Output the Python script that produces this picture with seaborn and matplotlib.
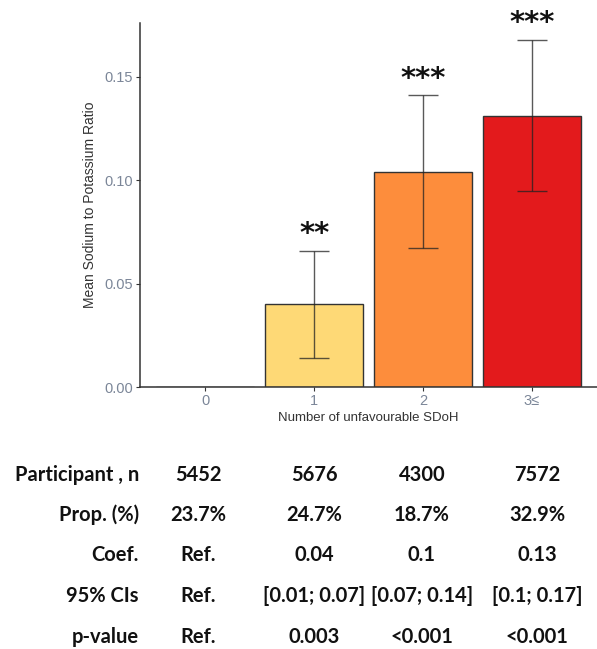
import matplotlib
matplotlib.use("Agg")
import matplotlib.pyplot as plt
import seaborn as sns
import pandas as pd

# data
groups = ["0", "1", "2", "3≤"]
mean_ratio = [0.0, 0.040, 0.104, 0.131]
ci_low = [None, 0.014, 0.067, 0.095]
ci_high = [None, 0.066, 0.141, 0.168]
stars = ["", "**", "***", "***"]
bar_colors = ["#FFFFCC", "#FED976", "#FD8D3C", "#E31A1C"]

row_labels = ["Participant , n", "Prop. (%)", "Coef.", "95% CIs", "p-value"]
participants = ["5452", "5676", "4300", "7572"]
proportions = ["23.7%", "24.7%", "18.7%", "32.9%"]
coefs = ["Ref.", "0.04", "0.1", "0.13"]
cis = ["Ref.", "[0.01; 0.07]", "[0.07; 0.14]", "[0.1; 0.17]"]
pvalues = ["Ref.", "0.003", "<0.001", "<0.001"]

df = pd.DataFrame({"group": groups, "mean": mean_ratio})

sns.set_style("white")
plt.rcParams["font.family"] = ["Liberation Sans", "DejaVu Sans"]

W, H = 597, 649
fig = plt.figure(figsize=(W / 100, H / 100), dpi=100)
ax = fig.add_axes([140 / W, 1 - 387 / H, (W - 140) / W, (387 - 23) / H])

sns.barplot(data=df, x="group", y="mean", hue="group", palette=bar_colors,
            legend=False, width=0.9, saturation=1, edgecolor="#333333",
            linewidth=1.0, ax=ax)

for i in range(1, len(groups)):
    ax.errorbar(i, mean_ratio[i],
                yerr=[[mean_ratio[i] - ci_low[i]], [ci_high[i] - mean_ratio[i]]],
                fmt="none", ecolor="#222222", alpha=0.75, elinewidth=1.0,
                capsize=11, capthick=1.0)
    ax.text(i, ci_high[i] + 0.001, stars[i], ha="center", va="bottom",
            fontsize=21, fontweight="bold", family=["DejaVu Sans"],
            color="#111111", clip_on=False)

ax.set_xlim(-0.6, 3.6)
ax.set_ylim(0, 0.176)
ax.set_yticks([0.0, 0.05, 0.10, 0.15])
ax.set_yticklabels(["0.00", "0.05", "0.10", "0.15"])
for s in ["top", "right"]:
    ax.spines[s].set_visible(False)
for s in ["left", "bottom"]:
    ax.spines[s].set_color("#333333")
    ax.spines[s].set_linewidth(1.1)
ax.tick_params(axis="both", colors="#333333", labelcolor="#7b8698",
               labelsize=10.5, length=3, width=0.8, direction="out", pad=2,
               left=True, bottom=True)
ax.set_xlabel("Number of unfavourable SDoH", fontsize=9.5, color="#333333", labelpad=3)
ax.set_ylabel("Mean Sodium to Potassium Ratio", fontsize=10, color="#333333", labelpad=5)

# summary table below the chart
tfont = dict(family=["Lato", "DejaVu Sans"], fontweight="bold", fontsize=14.5,
             color="#111111", va="center")
row_y = [475, 515, 555, 596, 637]
col_x = [198, 314, 422, 537]
rows = [participants, proportions, coefs, cis, pvalues]
for label, y, vals in zip(row_labels, row_y, rows):
    fig.text(139 / W, 1 - y / H, label, ha="right", **tfont)
    for x, v in zip(col_x, vals):
        fig.text(x / W, 1 - y / H, v, ha="center", **tfont)

fig.savefig("out.png", dpi=100)
